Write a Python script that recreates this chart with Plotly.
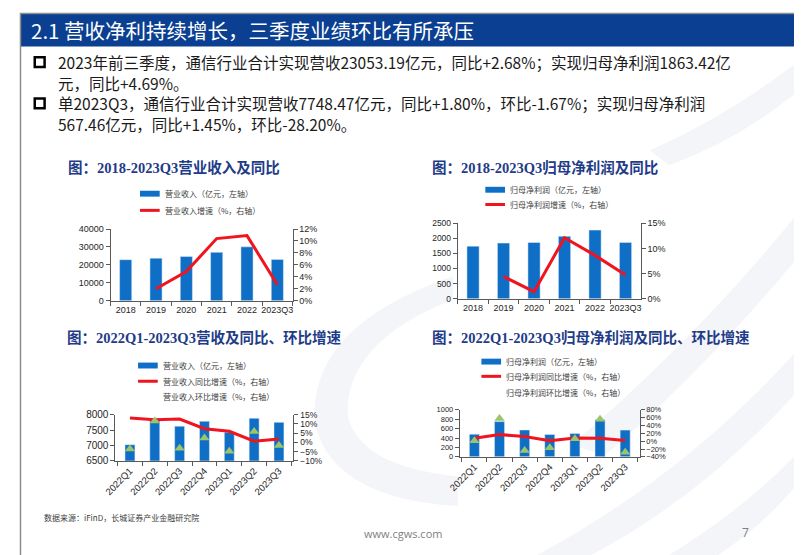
import plotly.graph_objects as go

W, H = 802, 555

# ---------------- data ----------------
years = ["2018", "2019", "2020", "2021", "2022", "2023Q3"]
rev_year = [22900, 23750, 24650, 27000, 30050, 23053.19]
rev_year_yoy = [None, 2.0, 4.9, 10.4, 10.9, 2.68]

np_year = [1740, 1840, 1860, 2065, 2270, 1863.42]
np_year_yoy = [None, 4.4, 1.4, 12.1, 8.6, 4.69]

quarters = ["2022Q1", "2022Q2", "2022Q3", "2022Q4", "2023Q1", "2023Q2", "2023Q3"]
rev_q = [7025, 7865, 7625, 7785, 7430, 7880, 7748.47]
rev_q_yoy = [13.2, 12.2, 12.6, 7.4, 6.0, 0.6, 1.80]
rev_q_qoq = [-3.6, 11.6, -3.2, 2.3, -4.9, 5.9, -1.67]

np_q = [481, 748, 570, 474, 496, 785, 567.46]
np_q_yoy = [7.1, 16.9, 11.6, 0.9, 8.0, 7.1, 1.45]
np_q_qoq = [0.9, 57.8, -24.0, -16.9, 6.2, 56.0, -28.20]

# ---------------- styles ----------------
BAR = "#0F6FC6"
RED = "#F0141E"
GREEN = "#9CC46A"
NAVY = "#1F3C88"
AX = "#595959"
TXT = "#262626"
CJK = "Noto Sans CJK SC"


def X(px):
    return px / W


def Y(py):
    return 1 - py / H


fig = go.Figure()

# chart 1
fig.add_trace(go.Bar(x=years, y=rev_year, marker_color=BAR, xaxis="x", yaxis="y", showlegend=False))
fig.add_trace(go.Scatter(x=years, y=rev_year_yoy, mode="lines", line=dict(color=RED, width=3),
                         xaxis="x", yaxis="y2", showlegend=False))
# chart 2
fig.add_trace(go.Bar(x=years, y=np_year, marker_color=BAR, xaxis="x2", yaxis="y3", showlegend=False))
fig.add_trace(go.Scatter(x=years, y=np_year_yoy, mode="lines", line=dict(color=RED, width=3),
                         xaxis="x2", yaxis="y4", showlegend=False))
# chart 3
fig.add_trace(go.Bar(x=quarters, y=rev_q, marker_color=BAR, xaxis="x3", yaxis="y5", showlegend=False))
fig.add_trace(go.Scatter(x=quarters, y=rev_q_yoy, mode="lines", line=dict(color=RED, width=3),
                         xaxis="x3", yaxis="y6", showlegend=False))
fig.add_trace(go.Scatter(x=quarters, y=rev_q_qoq, mode="markers",
                         marker=dict(symbol="triangle-up", color=GREEN, size=9),
                         xaxis="x3", yaxis="y6", showlegend=False))
# chart 4
fig.add_trace(go.Bar(x=quarters, y=np_q, marker_color=BAR, xaxis="x4", yaxis="y7", showlegend=False))
fig.add_trace(go.Scatter(x=quarters, y=np_q_yoy, mode="lines", line=dict(color=RED, width=3),
                         xaxis="x4", yaxis="y8", showlegend=False))
fig.add_trace(go.Scatter(x=quarters, y=np_q_qoq, mode="markers",
                         marker=dict(symbol="triangle-up", color=GREEN, size=9),
                         xaxis="x4", yaxis="y8", showlegend=False))


def xax(x0, x1, anchor, fs, angle=0):
    return dict(domain=[X(x0), X(x1)], anchor=anchor, type="category", showline=True,
                linecolor=AX, linewidth=1, ticks="outside", tickson="boundaries", ticklen=4,
                tickcolor=AX, showgrid=False, tickangle=angle,
                tickfont=dict(family="Liberation Sans", size=fs, color=TXT), fixedrange=True)


def yax(y0, y1, anchor, rng, dtick, fs, suffix="", side="left", overlay=None):
    d = dict(range=rng, dtick=dtick, side=side, anchor=anchor, showline=True, linecolor=AX,
             linewidth=1, ticks="outside", ticklen=4, tickcolor=AX, showgrid=False,
             zeroline=False, ticksuffix=suffix, tickformat="d",
             tickfont=dict(family="Liberation Sans", size=fs, color=TXT), fixedrange=True)
    if overlay:
        d["overlaying"] = overlay
    else:
        d["domain"] = [Y(y1), Y(y0)]
    return d


layout = dict(
    width=W, height=H, margin=dict(l=0, r=0, t=0, b=0),
    paper_bgcolor="white", plot_bgcolor="rgba(0,0,0,0)", bargap=0.6,
    xaxis=xax(92, 277, "y", 9),
    yaxis=yax(220, 293, "x", [0, 40000], 10000, 9),
    yaxis2=yax(0, 0, "x", [0, 12], 2, 9, "%", "right", "y"),
    xaxis2=xax(445, 631, "y3", 9),
    yaxis3=yax(214, 291, "x2", [0, 2500], 500, 8.5),
    yaxis4=yax(0, 0, "x2", [0, 15], 5, 9, "%", "right", "y3"),
    xaxis3=xax(97, 278, "y5", 9.5, -45),
    yaxis5=yax(409, 456, "x3", [6500, 8000], 500, 10),
    yaxis6=yax(0, 0, "x3", [-10, 15], 5, 8.5, "%", "right", "y5"),
    xaxis4=xax(447, 630, "y7", 9.5, -45),
    yaxis7=yax(404, 452, "x4", [0, 1000], 200, 7.5),
    yaxis8=yax(0, 0, "x4", [-40, 80], 20, 7.5, "%", "right", "y7"),
)
fig.update_layout(**layout)

shapes = []
ann = []


def path(pts):
    s = ""
    for cmd, coords in pts:
        s += cmd
        if coords:
            s += " ".join(f"{X(a):.5f},{Y(b):.5f}" for a, b in coords) + " "
    return s


WM = "#F4F5F9"
# watermark swooshes
shapes.append(dict(type="path", xref="paper", yref="paper", layer="below", line=dict(width=0), fillcolor=WM,
                   path=path([("M", [(440, 268)]), ("Q", [(290, 320), (300, 420)]), ("Q", [(320, 495), (445, 502)]),
                              ("L", [(445, 472)]), ("Q", [(345, 462), (333, 410)]), ("Q", [(330, 335), (440, 292)]), ("Z", [])])))
shapes.append(dict(type="path", xref="paper", yref="paper", layer="below", line=dict(width=0), fillcolor=WM,
                   path=path([("M", [(520, 555)]), ("Q", [(680, 470), (802, 330)]), ("L", [(802, 372)]),
                              ("Q", [(700, 490), (575, 555)]), ("Z", [])])))
shapes.append(dict(type="path", xref="paper", yref="paper", layer="below", line=dict(width=0), fillcolor=WM,
                   path=path([("M", [(655, 555)]), ("Q", [(745, 500), (802, 435)]), ("L", [(802, 465)]),
                              ("Q", [(760, 520), (705, 555)]), ("Z", [])])))
shapes.append(dict(type="path", xref="paper", yref="paper", layer="below", line=dict(width=0), fillcolor=WM,
                   path=path([("M", [(560, 440)]), ("Q", [(690, 330), (802, 190)]), ("L", [(802, 235)]),
                              ("Q", [(700, 360), (595, 450)]), ("Z", [])])))
shapes.append(dict(type="path", xref="paper", yref="paper", layer="below", line=dict(width=0), fillcolor=WM,
                   path=path([("M", [(640, 140)]), ("Q", [(730, 100), (802, 40)]), ("L", [(802, 70)]),
                              ("Q", [(740, 125), (660, 155)]), ("Z", [])])))

# header band
shapes.append(dict(type="rect", xref="paper", yref="paper", x0=X(0), x1=X(802), y0=Y(34), y1=Y(0),
                   fillcolor="#0B3F91", line=dict(width=0)))
ann.append(dict(x=X(9), y=Y(17), xref="paper", yref="paper", xanchor="left", yanchor="middle", showarrow=False,
                text="2.1 营收净利持续增长，三季度业绩环比有所承压",
                font=dict(family=CJK, size=20.5, color="white")))

# bullets
for cy in (50, 92):
    shapes.append(dict(type="rect", xref="paper", yref="paper", x0=X(15), x1=X(25), y0=Y(cy + 5), y1=Y(cy - 5),
                       fillcolor="white", line=dict(color="black", width=2.5)))
bullet_lines = [
    (50, "2023年前三季度，通信行业合计实现营收23053.19亿元，同比+2.68%；实现归母净利润1863.42亿"),
    (71, "元，同比+4.69%。"),
    (92, "单2023Q3，通信行业合计实现营收7748.47亿元，同比+1.80%，环比-1.67%；实现归母净利润"),
    (113, "567.46亿元，同比+1.45%，环比-28.20%。"),
]
for yy, t in bullet_lines:
    ann.append(dict(x=X(37), y=Y(yy), xref="paper", yref="paper", xanchor="left", yanchor="middle",
                    showarrow=False, text=t, font=dict(family=CJK, size=15.5, color="#1A1A1A")))

# chart titles
TF = dict(family="Liberation Serif, Noto Sans CJK SC", size=14.5, color=NAVY)
for cx, cy, t in [(157, 157, "<b>图：2018-2023Q3营业收入及同比</b>"),
                  (534, 157, "<b>图：2018-2023Q3归母净利润及同比</b>"),
                  (187, 330, "<b>图：2022Q1-2023Q3营收及同比、环比增速</b>"),
                  (580, 330, "<b>图：2022Q1-2023Q3归母净利润及同比、环比增速</b>")]:
    ann.append(dict(x=X(cx), y=Y(cy), xref="paper", yref="paper", xanchor="center", yanchor="middle",
                    showarrow=False, text=t, font=TF))

LF = dict(family=CJK, size=8, color="#404040")


def leg_bar(x0, y, text):
    shapes.append(dict(type="rect", xref="paper", yref="paper", x0=X(x0), x1=X(x0 + 20), y0=Y(y + 3), y1=Y(y - 3),
                       fillcolor=BAR, line=dict(width=0)))
    ann.append(dict(x=X(x0 + 23), y=Y(y), xref="paper", yref="paper", xanchor="left", yanchor="middle",
                    showarrow=False, text=text, font=LF))


def leg_line(x0, y, text):
    shapes.append(dict(type="line", xref="paper", yref="paper", x0=X(x0), x1=X(x0 + 20), y0=Y(y), y1=Y(y),
                       line=dict(color=RED, width=3)))
    ann.append(dict(x=X(x0 + 23), y=Y(y), xref="paper", yref="paper", xanchor="left", yanchor="middle",
                    showarrow=False, text=text, font=LF))


def leg_tri(x0, y, text):
    cx = x0 + 10
    shapes.append(dict(type="path", xref="paper", yref="paper", fillcolor=GREEN, line=dict(width=0),
                       path=path([("M", [(cx - 3, y + 2.5)]), ("L", [(cx + 3, y + 2.5), (cx, y - 3)]), ("Z", [])])))
    ann.append(dict(x=X(x0 + 23), y=Y(y), xref="paper", yref="paper", xanchor="left", yanchor="middle",
                    showarrow=False, text=text, font=LF))


leg_bar(122, 184, "营业收入（亿元，左轴）")
leg_line(122, 201, "营业收入增速（%，右轴）")
leg_bar(473, 180, "归母净利润（亿元，左轴）")
leg_line(473, 195, "归母净利润增速（%，右轴）")
leg_bar(120, 359, "营业收入（亿元，左轴）")
leg_line(120, 375, "营业收入同比增速（%，右轴）")
leg_tri(120, 391, "营业收入环比增速（%，右轴）")
leg_bar(469, 355, "归母净利润（亿元，左轴）")
leg_line(469, 370, "归母净利润同比增速（%，右轴）")
leg_tri(469, 386, "归母净利润环比增速（%，右轴）")

# footer
ann.append(dict(x=X(22), y=Y(514), xref="paper", yref="paper", xanchor="left", yanchor="middle", showarrow=False,
                text="数据来源：iFinD，长城证券产业金融研究院", font=dict(family=CJK, size=8, color="#404040")))
ann.append(dict(x=X(389), y=Y(530), xref="paper", yref="paper", xanchor="center", yanchor="middle", showarrow=False,
                text="www.cgws.com", font=dict(family="Open Sans", size=11, color="#7F7F7F")))
ann.append(dict(x=X(737), y=Y(529), xref="paper", yref="paper", xanchor="center", yanchor="middle", showarrow=False,
                text="7", font=dict(family="Open Sans", size=12, color="#7F7F7F")))
shapes.append(dict(type="path", xref="paper", yref="paper", fillcolor="#A9A6AB", line=dict(width=0),
                   path=path([("M", [(398, 555)]), ("L", [(402, 543), (802, 543), (802, 555)]), ("Z", [])])))
shapes.append(dict(type="path", xref="paper", yref="paper", fillcolor="#0B3F91", line=dict(width=0),
                   path=path([("M", [(1, 555)]), ("L", [(5, 543), (402, 543), (398, 555)]), ("Z", [])])))
# border
shapes.append(dict(type="rect", xref="paper", yref="paper", x0=X(0.5), x1=X(801.5), y0=Y(554.5), y1=Y(0.5),
                   line=dict(color="#8C8C8C", width=1.5), fillcolor="rgba(0,0,0,0)"))

fig.update_layout(shapes=shapes, annotations=ann)
fig.write_html("out.html")
